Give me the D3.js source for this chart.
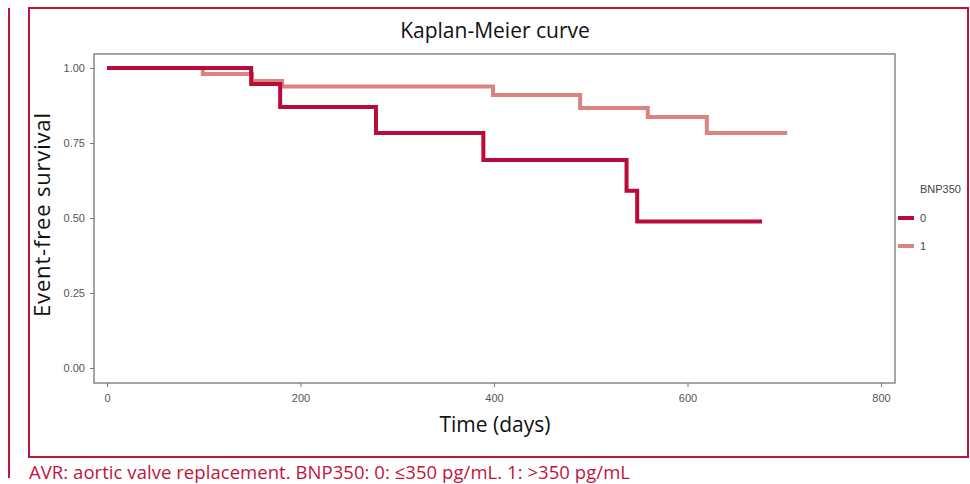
<!DOCTYPE html>
<html>
<head>
<meta charset="utf-8">
<script src="https://cdn.jsdelivr.net/npm/d3@7"></script>
<style>
  body { margin: 0; background: #fff; }
  text { font-family: "Open Sans", "Noto Sans", sans-serif; }
</style>
</head>
<body>
<div id="chart"></div>
<script>
// Data
var groups = ["0", "1"];
var times0 = [0, 149, 179, 278, 389, 537, 548, 677];
var surv0  = [1.00, 0.947, 0.870, 0.783, 0.693, 0.591, 0.488, 0.488];
var times1 = [0, 99, 150, 181, 399, 489, 559, 620, 703];
var surv1  = [1.00, 0.980, 0.957, 0.938, 0.910, 0.867, 0.837, 0.783, 0.783];
var xTicks = [0, 200, 400, 600, 800];
var yTicks = [0, 0.25, 0.5, 0.75, 1];

var width = 970, height = 484;
var red = "#c0143c";
var colors = ["#b80a3b", "#da8380"];

var svg = d3.select("#chart").append("svg")
  .attr("width", width)
  .attr("height", height);

// frame
svg.append("line")
  .attr("x1", 9).attr("x2", 9).attr("y1", 8).attr("y2", 478)
  .attr("stroke", red).attr("stroke-width", 2);
svg.append("rect")
  .attr("x", 29).attr("y", 8).attr("width", 939).attr("height", 449)
  .attr("fill", "none").attr("stroke", red).attr("stroke-width", 2);

// panel
var panel = {left: 94, top: 54, right: 895, bottom: 383};
var x = d3.scaleLinear().domain([0, 800]).range([107, 881]);
var y = d3.scaleLinear().domain([0, 1]).range([368, 68]);

svg.append("rect")
  .attr("x", panel.left).attr("y", panel.top)
  .attr("width", panel.right - panel.left)
  .attr("height", panel.bottom - panel.top)
  .attr("fill", "#fff").attr("stroke", "#888").attr("stroke-width", 1.5);

var xAxis = svg.append("g")
  .attr("transform", "translate(0," + panel.bottom + ")")
  .call(d3.axisBottom(x).tickValues(xTicks).tickSize(4).tickPadding(7));
var yAxis = svg.append("g")
  .attr("transform", "translate(" + panel.left + ",0)")
  .call(d3.axisLeft(y).tickValues(yTicks).tickSize(4).tickPadding(5)
    .tickFormat(d3.format(".2f")));

[xAxis, yAxis].forEach(function(a){
  a.select(".domain").remove();
  a.selectAll("line").attr("stroke", "#777");
  a.selectAll("text")
    .attr("fill", "#555")
    .style("font-family", "Arial, 'Liberation Sans', sans-serif")
    .style("font-size", "11px");
});

// curves
var line = d3.line()
  .x(function(d){ return x(d[0]); })
  .y(function(d){ return y(d[1]); })
  .curve(d3.curveStepAfter);

var series = [d3.zip(times1, surv1), d3.zip(times0, surv0)];
var seriesColors = [colors[1], colors[0]];

svg.selectAll(".km")
  .data(series)
  .enter()
  .append("path")
  .attr("class", "km")
  .attr("d", line)
  .attr("fill", "none")
  .attr("stroke", function(d,i){ return seriesColors[i]; })
  .attr("stroke-width", 4);

// titles
svg.append("text")
  .attr("x", 495).attr("y", 38)
  .attr("text-anchor", "middle")
  .style("font-size", "21px")
  .attr("fill", "#111")
  .text("Kaplan-Meier curve");

svg.append("text")
  .attr("x", 495).attr("y", 432)
  .attr("text-anchor", "middle")
  .style("font-size", "21px")
  .attr("fill", "#111")
  .text("Time (days)");

svg.append("text")
  .attr("transform", "translate(50,215) rotate(-90)")
  .attr("text-anchor", "middle")
  .style("font-size", "22px")
  .attr("textLength", 204)
  .attr("lengthAdjust", "spacing")
  .attr("fill", "#111")
  .text("Event-free survival");

// legend
var legend = svg.append("g").attr("transform", "translate(898,0)");
legend.append("text")
  .attr("x", 22).attr("y", 193)
  .style("font-family", "Arial, 'Liberation Sans', sans-serif")
  .style("font-size", "11px")
  .attr("fill", "#444")
  .text("BNP350");

legend.selectAll(".key")
  .data(groups)
  .enter()
  .append("g")
  .attr("class", "key")
  .attr("transform", function(d,i){ return "translate(0," + (218 + i*28) + ")"; })
  .each(function(d,i){
    var g = d3.select(this);
    g.append("line")
      .attr("x1", 0).attr("x2", 16)
      .attr("stroke", colors[i]).attr("stroke-width", 4);
    g.append("text")
      .attr("x", 22).attr("y", 4)
      .style("font-family", "Arial, 'Liberation Sans', sans-serif")
      .style("font-size", "11px")
      .attr("fill", "#444")
      .text(d);
  });

// caption
svg.append("text")
  .attr("x", 29).attr("y", 479)
  .style("font-size", "18.5px")
  .attr("textLength", 601)
  .attr("lengthAdjust", "spacing")
  .attr("fill", red)
  .text("AVR: aortic valve replacement. BNP350: 0: \u2264350 pg/mL. 1: >350 pg/mL");
</script>
</body>
</html>
